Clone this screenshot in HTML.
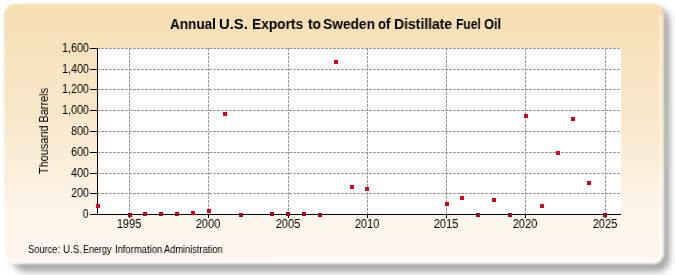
<!DOCTYPE html>
<html><head><meta charset="utf-8"><style>
*{will-change:transform;}
html,body{margin:0;padding:0;background:#fff;}
body{width:675px;height:275px;position:relative;overflow:hidden;font-family:"Liberation Sans",sans-serif;}
.plot{position:absolute;left:97px;top:48px;width:524px;height:167px;background:#fff;}
svg{position:absolute;left:0;top:0;}
.tw{position:absolute;top:16px;transform-origin:0 50%;font-weight:bold;font-size:14.5px;line-height:16px;color:#000;white-space:nowrap;}
.yl{position:absolute;right:586.2px;font-size:12px;line-height:16px;color:#000;transform:scaleX(0.9);transform-origin:100% 50%;}
.xl{position:absolute;top:215.5px;width:40px;text-align:center;font-size:12px;line-height:16px;color:#000;transform:scaleX(0.92);}
.ya{position:absolute;left:43.8px;top:131.2px;transform:translate(-50%,-50%) rotate(-90deg) scaleX(0.872);white-space:nowrap;font-size:12.5px;color:#000;}
.sw{position:absolute;top:244.1px;font-size:10px;line-height:12px;color:#000;white-space:nowrap;transform-origin:0 50%;}
</style></head><body>
<svg width="675" height="275" viewBox="0 0 675 275"><defs>
<filter id="fs" x="-5%" y="-5%" width="110%" height="110%"><feGaussianBlur stdDeviation="3"/></filter>
<filter id="fb" x="-5%" y="-5%" width="110%" height="110%"><feGaussianBlur stdDeviation="0.8"/></filter>
<linearGradient id="lg" x1="0" y1="0" x2="0" y2="1"><stop offset="0" stop-color="#f5deb3"/><stop offset="0.45" stop-color="#f8e8cc"/><stop offset="0.8" stop-color="#fdf5ea"/><stop offset="1" stop-color="#fef7ee"/></linearGradient>
</defs>
<rect x="13" y="8" width="657" height="264" rx="13" fill="#000" opacity="0.34" filter="url(#fs)"/>
<g filter="url(#fb)"><rect x="4" y="4" width="660" height="260" rx="11" fill="url(#lg)"/><path d="M661,15 V251 Q661,261 651,261 H15" fill="none" stroke="#fff" stroke-width="3" opacity="0.45"/></g>
</svg>
<div class="plot"></div>
<svg width="675" height="275" viewBox="0 0 675 275"><g stroke="#9a9a9a" stroke-width="1" stroke-dasharray="3,1"><line x1="97" y1="193.5" x2="621" y2="193.5"/><line x1="97" y1="173.5" x2="621" y2="173.5"/><line x1="97" y1="152.5" x2="621" y2="152.5"/><line x1="97" y1="131.5" x2="621" y2="131.5"/><line x1="97" y1="110.5" x2="621" y2="110.5"/><line x1="97" y1="89.5" x2="621" y2="89.5"/><line x1="97" y1="69.5" x2="621" y2="69.5"/><line x1="97" y1="48.5" x2="621" y2="48.5"/><line x1="129.5" y1="48" x2="129.5" y2="214"/><line x1="208.5" y1="48" x2="208.5" y2="214"/><line x1="288.5" y1="48" x2="288.5" y2="214"/><line x1="367.5" y1="48" x2="367.5" y2="214"/><line x1="446.5" y1="48" x2="446.5" y2="214"/><line x1="525.5" y1="48" x2="525.5" y2="214"/><line x1="605.5" y1="48" x2="605.5" y2="214"/></g><g stroke="#000" stroke-width="1" shape-rendering="crispEdges"><line x1="97.5" y1="48" x2="97.5" y2="215"/><line x1="90" y1="214.5" x2="621" y2="214.5"/><line x1="90" y1="214.5" x2="97" y2="214.5"/><line x1="90" y1="193.5" x2="97" y2="193.5"/><line x1="90" y1="173.5" x2="97" y2="173.5"/><line x1="90" y1="152.5" x2="97" y2="152.5"/><line x1="90" y1="131.5" x2="97" y2="131.5"/><line x1="90" y1="110.5" x2="97" y2="110.5"/><line x1="90" y1="89.5" x2="97" y2="89.5"/><line x1="90" y1="69.5" x2="97" y2="69.5"/><line x1="90" y1="48.5" x2="97" y2="48.5"/><line x1="129.5" y1="214" x2="129.5" y2="218"/><line x1="208.5" y1="214" x2="208.5" y2="218"/><line x1="288.5" y1="214" x2="288.5" y2="218"/><line x1="367.5" y1="214" x2="367.5" y2="218"/><line x1="446.5" y1="214" x2="446.5" y2="218"/><line x1="525.5" y1="214" x2="525.5" y2="218"/><line x1="605.5" y1="214" x2="605.5" y2="218"/></g><g shape-rendering="crispEdges"><rect x="96" y="204" width="4" height="4" fill="#d2001e"/><rect x="128" y="213" width="4" height="4" fill="#a00c1c"/><rect x="143" y="212" width="4" height="4" fill="#a00c1c"/><rect x="159" y="212" width="4" height="4" fill="#a00c1c"/><rect x="175" y="212" width="4" height="4" fill="#a00c1c"/><rect x="191" y="211" width="4" height="4" fill="#d2001e"/><rect x="207" y="209" width="4" height="4" fill="#d2001e"/><rect x="223" y="112" width="4" height="4" fill="#d2001e"/><rect x="239" y="213" width="4" height="4" fill="#a00c1c"/><rect x="270" y="212" width="4" height="4" fill="#a00c1c"/><rect x="286" y="212" width="4" height="4" fill="#a00c1c"/><rect x="302" y="212" width="4" height="4" fill="#a00c1c"/><rect x="318" y="213" width="4" height="4" fill="#a00c1c"/><rect x="334" y="60" width="4" height="4" fill="#d2001e"/><rect x="350" y="185" width="4" height="4" fill="#d2001e"/><rect x="365" y="187" width="4" height="4" fill="#d2001e"/><rect x="445" y="202" width="4" height="4" fill="#d2001e"/><rect x="460" y="196" width="4" height="4" fill="#d2001e"/><rect x="476" y="213" width="4" height="4" fill="#a00c1c"/><rect x="492" y="198" width="4" height="4" fill="#d2001e"/><rect x="508" y="213" width="4" height="4" fill="#a00c1c"/><rect x="524" y="114" width="4" height="4" fill="#d2001e"/><rect x="540" y="204" width="4" height="4" fill="#d2001e"/><rect x="556" y="151" width="4" height="4" fill="#d2001e"/><rect x="571" y="117" width="4" height="4" fill="#d2001e"/><rect x="587" y="181" width="4" height="4" fill="#d2001e"/><rect x="603" y="213" width="4" height="4" fill="#a00c1c"/></g></svg>
<span class="tw" style="left:170.40px;transform:scaleX(0.935)">Annual</span><span class="tw" style="left:218.68px;transform:scaleX(1.022)">U.S.</span><span class="tw" style="left:251.85px;transform:scaleX(0.947)">Exports</span><span class="tw" style="left:308.40px;transform:scaleX(0.946)">to</span><span class="tw" style="left:322.75px;transform:scaleX(0.949)">Sweden</span><span class="tw" style="left:377.68px;transform:scaleX(0.915)">of</span><span class="tw" style="left:393.64px;transform:scaleX(0.961)">Distillate</span><span class="tw" style="left:455.57px;transform:scaleX(0.832)">Fuel</span><span class="tw" style="left:483.71px;transform:scaleX(0.888)">Oil</span>
<div class="yl" style="top:206.2px">0</div><div class="yl" style="top:185.2px">200</div><div class="yl" style="top:165.2px">400</div><div class="yl" style="top:144.2px">600</div><div class="yl" style="top:123.2px">800</div><div class="yl" style="top:102.2px">1,000</div><div class="yl" style="top:81.2px">1,200</div><div class="yl" style="top:61.2px">1,400</div><div class="yl" style="top:40.2px">1,600</div><div class="xl" style="left:109.0px">1995</div><div class="xl" style="left:188.0px">2000</div><div class="xl" style="left:268.0px">2005</div><div class="xl" style="left:347.0px">2010</div><div class="xl" style="left:426.0px">2015</div><div class="xl" style="left:505.0px">2020</div><div class="xl" style="left:585.0px">2025</div>
<div class="ya">Thousand Barrels</div>
<span class="sw" style="left:28.17px;transform:scaleX(0.930)">Source:</span><span class="sw" style="left:62.83px;transform:scaleX(0.972)">U.S.</span><span class="sw" style="left:83.40px;transform:scaleX(0.897)">Energy</span><span class="sw" style="left:114.76px;transform:scaleX(0.943)">Information</span><span class="sw" style="left:163.70px;transform:scaleX(0.925)">Administration</span>
</body></html>
